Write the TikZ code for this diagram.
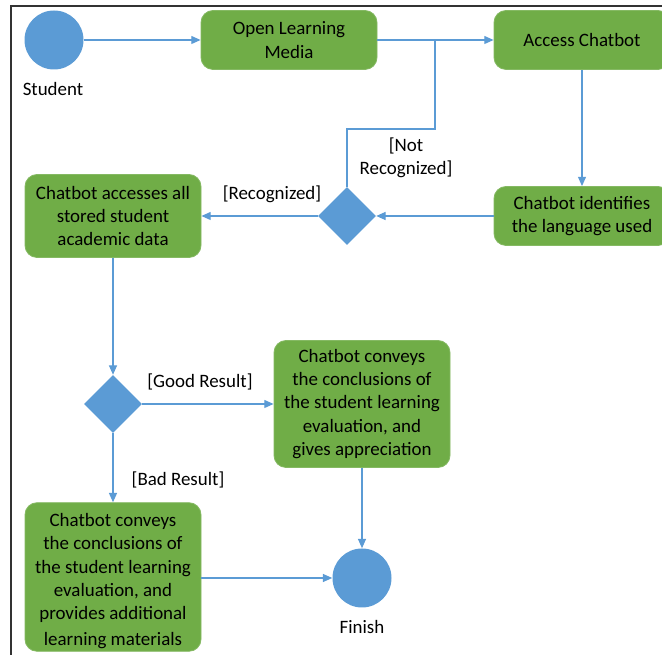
\documentclass[tikz,border=0pt]{standalone}
\usepackage{fontspec}
\setmainfont{Carlito}
\usetikzlibrary{shapes.geometric,arrows.meta}
\definecolor{actgreen}{HTML}{70AD47}
\definecolor{nodeblue}{HTML}{5B9BD5}
\definecolor{lineblue}{HTML}{5B9BD5}
\tikzset{
  actbox/.style={rectangle, rounded corners=9pt, fill=actgreen, draw=actgreen!85!white, line width=0.6pt,
    minimum width=132pt, align=center, inner sep=2pt, text=black,
    font=\fontsize{14.2}{17.4}\selectfont},
  statecirc/.style={circle, fill=nodeblue, draw=none, minimum size=44.25pt, inner sep=0pt},
  decision/.style={diamond, fill=nodeblue, draw=none, minimum width=43.5pt, minimum height=43.5pt, inner sep=0pt, aspect=1},
  flow/.style={draw=lineblue, line width=0.9pt, -{Triangle[length=7pt,width=6pt]}},
  plainflow/.style={draw=lineblue, line width=0.9pt},
  lbl/.style={align=center, text=black, font=\fontsize{14.2}{17.4}\selectfont, inner sep=0pt},
  frameline/.style={draw=black!80, line width=0.8pt}
}
\begin{document}
\begin{tikzpicture}[x=0.75pt, y=-0.75pt]
\useasboundingbox (0,0) rectangle (662,655);
\draw[frameline] (11,660) -- (11,6) -- (670,6);

\node[statecirc] (student) at (54,40) {};
\node[lbl] (studentlbl) at (53,89) {Student};

\node[actbox, minimum height=44.25pt] (open) at (289,40) {Open Learning\\Media};
\node[actbox, minimum height=44.25pt] (access) at (582,40) {Access Chatbot};
\node[actbox, minimum height=44.25pt] (ident) at (582,216) {Chatbot identifies\\the language used};
\node[decision] (d1) at (347,216) {};
\node[actbox, minimum height=62.25pt] (acc) at (113,216) {Chatbot accesses all\\stored student\\academic data};
\node[decision] (d2) at (113,404) {};
\node[actbox, minimum height=95.25pt] (good) at (362,404) {Chatbot conveys\\the conclusions of\\the student learning\\evaluation, and\\gives appreciation};
\node[actbox, minimum height=111pt] (bad) at (113,577) {\rule{0pt}{16pt}Chatbot conveys\\the conclusions of\\the student learning\\evaluation, and\\provides additional\\[2pt]learning materials};
\node[statecirc] (finish) at (362,578) {};
\node[lbl] (finishlbl) at (362,627) {Finish};

\coordinate (nrturn) at (435,129);
\coordinate (nrjoin) at (435,40);

\draw[flow] (student) -- (open);
\draw[flow] (open) -- (access);
\draw[plainflow] (d1.north) |- (nrturn) -- (nrjoin);
\draw[flow] (access) -- (ident);
\draw[flow] (ident.west) -- (d1.east);
\draw[flow] (d1.west) -- (acc.east);
\draw[flow] (acc.south) -- (d2.north);
\draw[flow] (d2.east) -- (good.west);
\draw[flow] (d2.south) -- (bad.north);
\draw[flow] (good.south) -- (finish.north);
\draw[flow] (bad.east |- finish.west) -- (finish.west);

\node[lbl] (lnotrec) at (406,158) {[Not\\Recognized]};
\node[lbl] (lrec) at (272,194) {[Recognized]};
\node[lbl] (lgood) at (200,382) {[Good Result]};
\node[lbl] (lbad) at (178,480) {[Bad Result]};
\end{tikzpicture}
\end{document}
